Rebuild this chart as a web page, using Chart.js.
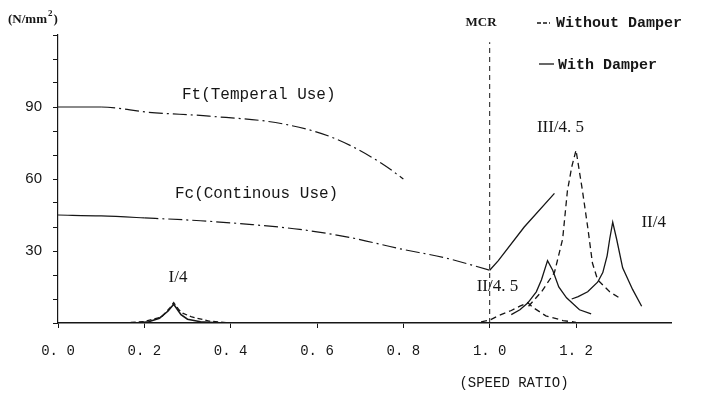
<!DOCTYPE html>
<html>
<head>
<meta charset="utf-8">
<script src="https://cdn.jsdelivr.net/npm/chart.js@4.4.1/dist/chart.umd.min.js"></script>
<style>
    html, body { margin: 0; padding: 0; background: #fff; }
    #wrap { width: 710px; height: 395px; }
</style>
</head>
<body>
<div id="wrap"><canvas id="stressChart" width="710" height="395"></canvas></div>
<script>
// speed ratio / stress (N/mm2) pairs
var ftLimit = [[0, 90], [0.1, 90], [0.21, 87.8], [0.35, 86.2], [0.52, 83], [0.64, 77], [0.75, 66.5], [0.8, 60]];
var fcLimit = [[0, 45], [0.1, 44.6], [0.2, 43.8], [0.33, 42.6], [0.45, 41], [0.56, 39], [0.68, 35.5], [0.79, 31], [0.9, 27], [1.0, 22]];
var fcAboveMcr = [[1.0, 22], [1.02, 26], [1.08, 40], [1.15, 54]];

var i4Without = [[0.15, 0], [0.2, 0.6], [0.24, 2.5], [0.26, 6.5], [0.268, 8.5], [0.28, 5.5], [0.29, 4], [0.31, 2.5], [0.35, 0.8], [0.4, 0]];
var i4With = [[0.18, 0], [0.21, 0.5], [0.235, 2], [0.255, 5], [0.268, 7.8], [0.285, 3.5], [0.3, 1.6], [0.33, 0.5], [0.38, 0]];

var ii45Without = [[0.98, 0.5], [1.0, 1.2], [1.02, 3], [1.05, 5.2], [1.07, 7], [1.088, 8.5], [1.1, 6.5], [1.13, 3], [1.17, 1], [1.2, 0.3]];
var ii45With = [[1.05, 3.5], [1.07, 5.5], [1.088, 8.3], [1.108, 13], [1.12, 18], [1.134, 26], [1.146, 22], [1.16, 15], [1.178, 10.5], [1.208, 5.5], [1.235, 3.8]];

var iii45Without = [[1.09, 7], [1.12, 13], [1.15, 21], [1.169, 35], [1.18, 55], [1.19, 65], [1.2, 72], [1.215, 55], [1.227, 40], [1.238, 25], [1.25, 18], [1.278, 13], [1.3, 10.5]];
var ii4With = [[1.19, 10], [1.205, 11], [1.227, 13], [1.25, 17], [1.262, 21], [1.272, 28], [1.278, 35], [1.285, 42], [1.294, 35], [1.308, 23], [1.331, 14], [1.352, 7]];

var mcrLine = [[1.0, 0], [1.0, 117]];

var xTicks = [0, 0.2, 0.4, 0.6, 0.8, 1.0, 1.2];
var yTickLabels = [30, 60, 90];

// text placed at [speed ratio, stress]
var curveLabels = [
    ['Ft(Temperal Use)', 0.465, 95, '16px "Liberation Mono"'],
    ['Fc(Continous Use)', 0.46, 54, '16px "Liberation Mono"'],
    ['I/4', 0.278, 19, '17px "Liberation Serif"'],
    ['II/4. 5', 1.018, 15, '17px "Liberation Serif"'],
    ['III/4. 5', 1.164, 81.5, '17px "Liberation Serif"'],
    ['II/4', 1.38, 42, '17px "Liberation Serif"'],
    ['MCR', 0.98, 125, 'bold 13px "Liberation Serif"']
];

var INK = '#161616';

function pts(arr) {
    return arr.map(function(p) { return { x: p[0], y: p[1] }; });
}

function curve(arr, dash, width) {
    return {
        data: pts(arr),
        borderColor: INK,
        borderWidth: width || 1.3,
        borderDash: dash,
        pointRadius: 0,
        tension: 0,
        fill: false
    };
}

var chainDash = [14, 4, 2, 4];

var ftSet = curve(ftLimit, chainDash, 1.2);
ftSet.cubicInterpolationMode = 'monotone';
ftSet.segment = {
    borderDash: function(c) { return c.p0.parsed.x < 0.09 ? [] : chainDash; }
};
var fcSet = curve(fcLimit, chainDash, 1.2);
fcSet.cubicInterpolationMode = 'monotone';
fcSet.segment = {
    borderDash: function(c) { return c.p0.parsed.x < 0.15 ? [] : chainDash; }
};

var labelsPlugin = {
    id: 'labelsPlugin',
    afterDraw: function(chart) {
        var ctx = chart.ctx;
        var xs = chart.scales.x, ys = chart.scales.y;
        ctx.save();
        ctx.fillStyle = INK;
        ctx.textAlign = 'center';
        ctx.textBaseline = 'middle';
        curveLabels.forEach(function(l) {
            ctx.font = l[3];
            ctx.fillText(l[0], xs.getPixelForValue(l[1]), ys.getPixelForValue(l[2]));
        });

        // axis units, with a raised 2
        ctx.textAlign = 'left';
        var ux = 8;
        ctx.font = 'bold 13px "Liberation Serif"';
        ctx.fillText('(N/mm', ux, 20);
        ux += ctx.measureText('(N/mm').width + 1;
        ctx.font = 'bold 9px "Liberation Serif"';
        ctx.fillText('2', ux, 14);
        ux += ctx.measureText('2').width + 1;
        ctx.font = 'bold 13px "Liberation Serif"';
        ctx.fillText(')', ux, 20);

        ctx.textAlign = 'center';
        ctx.font = '14px "Liberation Mono"';
        ctx.fillText('(SPEED RATIO)', 514, 383);

        // legend
        ctx.strokeStyle = INK;
        ctx.lineWidth = 1.3;
        ctx.setLineDash([4, 2]);
        ctx.beginPath();
        ctx.moveTo(537, 23); ctx.lineTo(550, 23);
        ctx.stroke();
        ctx.setLineDash([]);
        ctx.beginPath();
        ctx.moveTo(539, 64); ctx.lineTo(554, 64);
        ctx.stroke();
        ctx.textAlign = 'left';
        ctx.font = 'bold 15px "Liberation Mono"';
        ctx.fillText('Without Damper', 556, 23);
        ctx.fillText('With Damper', 558, 65);
        ctx.restore();
    }
};

document.addEventListener('DOMContentLoaded', function() {
    var ctx = document.getElementById('stressChart').getContext('2d');
    var stressChart = new Chart(ctx, {
        type: 'line',
        data: {
            datasets: [
                ftSet,
                fcSet,
                curve(fcAboveMcr, [], 1.3),
                curve(i4Without, [5, 3], 1.3),
                curve(i4With, [], 1.6),
                curve(ii45Without, [6, 4], 1.3),
                curve(ii45With, [], 1.3),
                curve(iii45Without, [6, 4], 1.3),
                curve(ii4With, [], 1.3),
                curve(mcrLine, [5, 4], 1)
            ]
        },
        options: {
            responsive: false,
            animation: false,
            layout: { padding: { top: 35, right: 39, left: 0, bottom: 0 } },
            plugins: {
                legend: { display: false },
                tooltip: { enabled: false }
            },
            scales: {
                x: {
                    type: 'linear',
                    min: 0,
                    max: 1.42,
                    afterFit: function(scale) { scale.height = 72; },
                    afterBuildTicks: function(scale) {
                        scale.ticks = xTicks.map(function(v) { return { value: v }; });
                    },
                    ticks: {
                        color: INK,
                        font: { family: 'Liberation Mono', size: 14 },
                        padding: 15,
                        maxRotation: 0,
                        callback: function(v) { return v.toFixed(1).replace('.', '. '); }
                    },
                    grid: { drawOnChartArea: false, tickLength: 5, color: INK },
                    border: { color: INK, width: 1.6 }
                },
                y: {
                    min: 0,
                    max: 120,
                    afterFit: function(scale) { scale.width = 58; },
                    ticks: {
                        stepSize: 10,
                        color: INK,
                        font: { family: 'Liberation Sans', size: 15 },
                        padding: 11,
                        callback: function(v) { return yTickLabels.indexOf(v) >= 0 ? v : ''; }
                    },
                    grid: { drawOnChartArea: false, tickLength: 5, color: INK },
                    border: { color: INK, width: 1.2, dash: [6, 2] }
                }
            }
        },
        plugins: [labelsPlugin]
    });
});
</script>
</body>
</html>
